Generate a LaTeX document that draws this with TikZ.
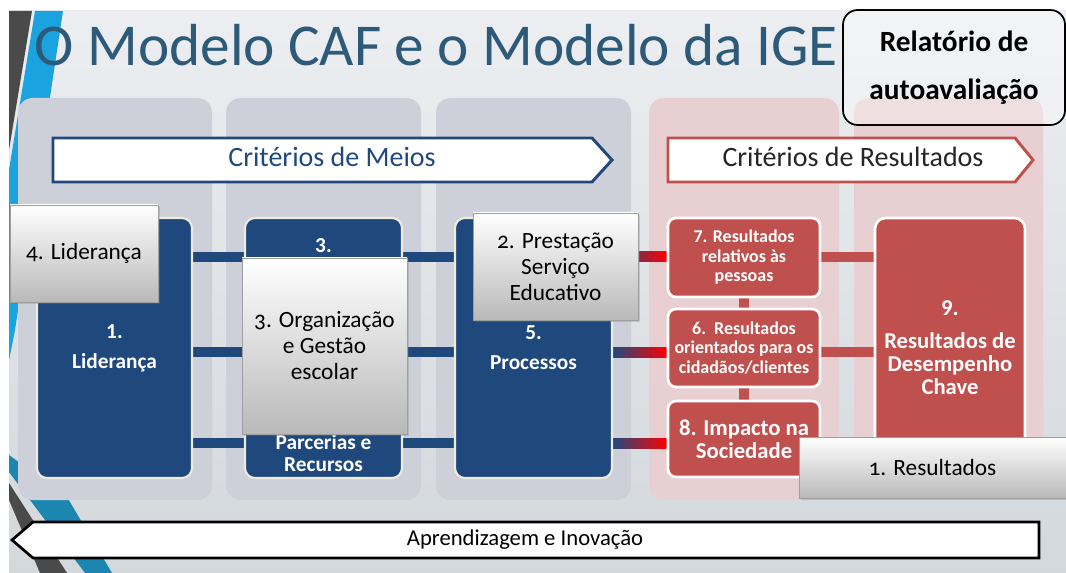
\documentclass[tikz,border=0pt]{standalone}
\usepackage{fontspec}
\setmainfont{Carlito}
\newfontfamily\oldnum[Numbers=OldStyle]{Carlito}
\usetikzlibrary{calc,shadows}
\definecolor{bluebox}{HTML}{1F497D}
\definecolor{redbox}{HTML}{C0504D}
\definecolor{titleblue}{HTML}{2E5A7A}
\definecolor{colgray}{HTML}{CDD0D9}
\definecolor{colpink}{HTML}{E8CFD1}
\definecolor{cream}{HTML}{EFEBDD}
\definecolor{bgtop}{HTML}{ECEEF1}
\definecolor{bgbot}{HTML}{D3D8DC}
\definecolor{stripeblue}{HTML}{1BA3E0}
\definecolor{stripeteal}{HTML}{1B86B0}
\definecolor{stripegray}{HTML}{4A4A4A}
\definecolor{purplebar}{HTML}{7030A0}
\pgfdeclarelayer{cols}
\pgfdeclarelayer{bars}
\pgfsetlayers{cols,bars,main}

\begin{document}
\begin{tikzpicture}[x=0.75pt, y=-0.75pt,
  sz/.style 2 args={minimum width=#1*0.75pt, minimum height=#2*0.75pt},
  col/.style={rounded corners=11pt, inner sep=0pt},
  bluebx/.style={fill=bluebox, draw=cream, line width=1.6pt, rounded corners=7.5pt, inner sep=0pt, text=white, align=center, font=\bfseries\fontsize{16}{22.5}\selectfont},
  redbx/.style={fill=redbox, draw=white, line width=2pt, rounded corners=6pt, inner sep=0pt, text=white, align=center, font=\bfseries\fontsize{13.5}{14.6}\selectfont},
  ovl/.style={draw=gray!75, line width=0.6pt, top color=white, bottom color=gray!55, inner sep=0pt, align=center, font=\oldnum\fontsize{17.5}{19.5}\selectfont, drop shadow={shadow xshift=1.2pt, shadow yshift=-1.5pt, opacity=0.3}},
  bbar/.style={draw=bluebox, line width=7.5pt},
  rbar/.style={draw=redbox, line width=7.5pt},
  gbar/.style={left color=bluebox, middle color=purplebar, right color=red},
  banner/.style={line width=2.2pt, fill=white, line join=miter}]
\useasboundingbox (0,0) rectangle (1066,573);

\begin{pgfonlayer}{cols}
  \shade[top color=bgtop, bottom color=bgbot] (9,11) rectangle (1066,573);
  % stripes at the left edge
  \fill[stripegray] (9,11) -- (32,11) -- (9,150) -- cycle;
  \fill[stripeblue] (35,11) -- (63,11) -- (15,330) -- (9,360) -- (9,170) -- cycle;
  \fill[stripeteal] (9,455) -- (67,497) -- (112,573) -- (85,573) -- (30,500) -- (9,472) -- cycle;
  \fill[stripegray] (9,483) -- (67,573) -- (40,573) -- (9,500) -- cycle;
  % columns
  \node[col, fill=colgray, sz={194}{402}] (K1) at (115,299) {};
  \node[col, fill=colgray, sz={195}{402}] (K2) at (323.5,299) {};
  \node[col, fill=colgray, sz={195}{402}] (K3) at (533.5,299) {};
  \node[col, fill=colpink, sz={190}{402}] (K4) at (744,299) {};
  \node[col, fill=colpink, sz={189}{402}] (K5) at (948.5,299) {};
\end{pgfonlayer}

\node[anchor=base west, text=titleblue, font=\fontsize{44.5}{50}\selectfont] (T) at (30,66) {O Modelo CAF e o Modelo da IGE};
\node[draw=black, line width=1.3pt, rounded corners=11pt, fill=white, fill opacity=0.35, text opacity=1, inner sep=0pt, align=center, font=\bfseries\fontsize{22}{36}\selectfont, sz={222}{115}] (RA) at (954,67.5) {Relatório de\\autoavaliação};

\draw[banner, draw=bluebox] (53,138) -- (592,138) -- (612,160) -- (592,182) -- (53,182) -- cycle;
\node[anchor=base, text=bluebox, font=\fontsize{21}{24}\selectfont] (CM) at (332,167) {Critérios de Meios};
\draw[banner, draw=redbox] (668,138) -- (1015,138) -- (1033,160) -- (1015,182) -- (668,182) -- cycle;
\node[anchor=base, text=black!85, font=\fontsize{21}{24}\selectfont] (CR) at (853,167) {Critérios de Resultados};

\node[bluebx, sz={155}{260}] (L1) at (114.5,348) {1.\\Liderança};
\node[bluebx, sz={157}{260}] (P3) at (323.5,348) {};
\node[anchor=base, text=white, font=\bfseries\fontsize{16}{16}\selectfont] (P3n) at ($(P3.north)+(0,36)$) {3.};
\node[text=white, align=center, font=\bfseries\fontsize{16}{16}\selectfont] (P3t) at ($(P3.south)+(0,-26)$) {Parcerias e\\Recursos};
\node[bluebx, sz={157}{260}] (P5) at (533.5,348) {5.\\Processos};

\node[redbx, sz={152}{79}] (R7) at (744,257.5) {7. Resultados\\relativos às\\pessoas};
\node[redbx, sz={152}{78}] (R6) at (744,348) {6.\ \ Resultados\\orientados para os\\cidadãos/clientes};
\node[redbx, font=\bfseries\fontsize{17}{17.5}\selectfont, sz={152}{76}] (R8) at (744,439) {8. Impacto na\\Sociedade};
\node[redbx, rounded corners=8pt, font=\bfseries\fontsize{17}{17.25}\selectfont, sz={150}{260}] (R9) at (950,348) {9.\\[7.5pt]Resultados de\\Desempenho\\Chave};

\begin{pgfonlayer}{bars}
  \foreach \dy in {-91,4,95} {
    \draw[bbar] ($(L1.east)+(0,\dy)$) -- ($(P5.west)+(0,\dy)$);
    \shade[gbar] ($(P5.east)+(0,\dy-5)$) rectangle ($(P5.east -| R7.west)+(0,\dy+5)$);
  }
  \draw[rbar] (R7.east) -- (R7.east -| R9.west);
  \draw[rbar] ($(R6.east)+(0,4)$) -- ($(R6.east -| R9.west)+(0,4)$);
  \draw[rbar] (R7.south) -- (R6.north);
  \draw[rbar] (R6.south) -- (R8.north);
\end{pgfonlayer}

\node[ovl, sz={148}{97}] (O4) at (84,253.5) {4. Liderança};
\node[ovl, sz={165}{176}] (O3) at (324.5,346) {3. Organização\\e Gestão\\escolar};
\node[ovl, sz={165}{107}] (O2) at (555.5,266.5) {2. Prestação\\Serviço\\Educativo};
\node[ovl, sz={267}{61}] (O1) at (932.5,467.5) {1. Resultados};

\draw[line width=2pt, fill=white] (33,522) -- (1039,522) -- (1039,558) -- (33,558) -- (12,540) -- cycle;
\node[font=\fontsize{17}{20}\selectfont] (AI) at (525,540) {Aprendizagem e Inovação};
\end{tikzpicture}
\end{document}
